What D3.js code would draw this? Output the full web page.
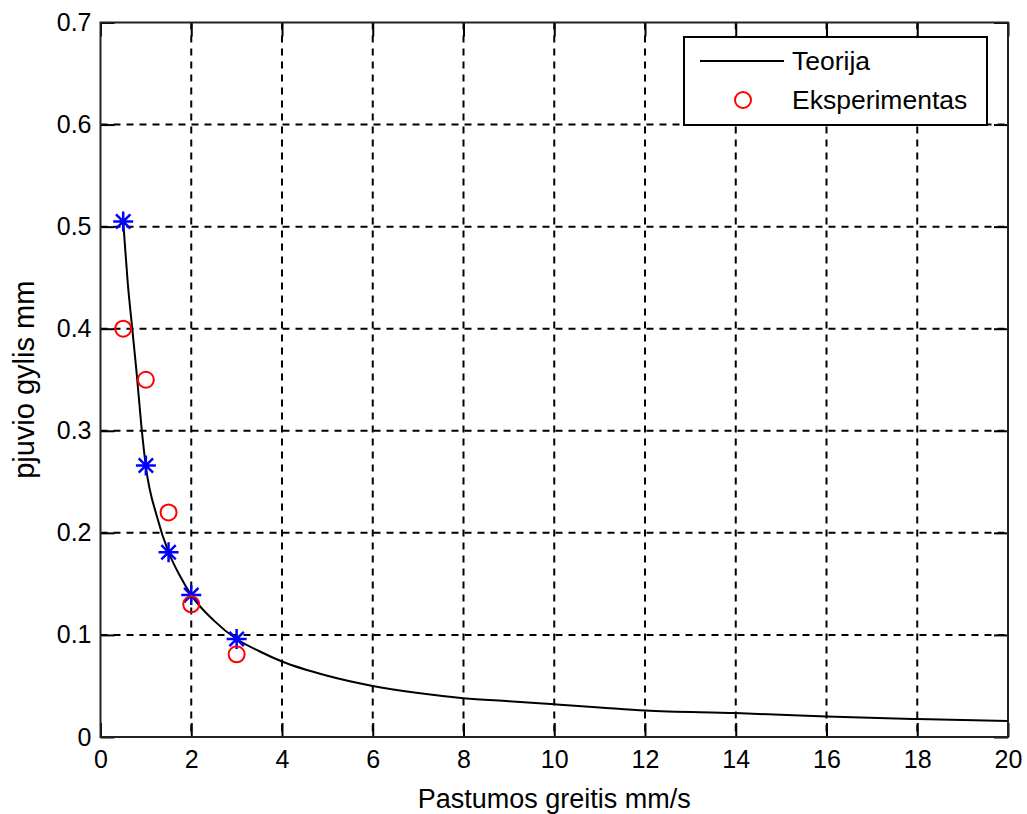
<!DOCTYPE html>
<html>
 <head>
  <title>Pjuvio gylis</title>
  <style>
  body { margin: 0; background: #fff; }
  svg { display: block; font-family: "Liberation Sans", Arial, sans-serif; }
  </style>
  <script src="https://cdnjs.cloudflare.com/ajax/libs/d3/7.8.3/d3.min.js"></script>
 </head>
 <body>
  <script>
   // theory curve
   const theoryX = [0.5, 0.6, 0.7, 0.8, 0.9, 1, 1.25, 1.5, 1.75, 2, 2.5, 3, 3.5, 4, 5, 6, 7, 8, 9, 10, 11, 12, 14, 16, 18, 20];
   const theoryY = [0.505, 0.445, 0.40, 0.355, 0.305, 0.265, 0.215, 0.181, 0.158, 0.139, 0.114, 0.096, 0.084, 0.074, 0.060, 0.050, 0.043, 0.038, 0.035, 0.032, 0.029, 0.026, 0.0235, 0.020, 0.0176, 0.0157];
   // theory points (blue stars)
   const starX = [0.5, 1, 1.5, 2, 3];
   const starY = [0.505, 0.266, 0.181, 0.139, 0.096];
   // experiment (red circles)
   const expX = [0.5, 1, 1.5, 2, 3];
   const expY = [0.40, 0.35, 0.22, 0.13, 0.081];

   const xTicks = d3.range(0, 21, 2);
   const yTicks = [0, 0.1, 0.2, 0.3, 0.4, 0.5, 0.6, 0.7];

   const w = 1027, h = 814;
   const padL = 100.5, padT = 22.5, padR = 1008, padB = 737;

   const x = d3.scaleLinear().domain([0, 20]).range([padL, padR]);
   const y = d3.scaleLinear().domain([0, 0.7]).range([padB, padT]);

   const svg = d3.select("body").append("svg")
                 .attr("width", w)
                 .attr("height", h);

   // grid
   svg.append("g").selectAll("line")
      .data(xTicks.slice(1, -1))
      .join("line")
      .attr("x1", d => x(d)).attr("x2", d => x(d))
      .attr("y1", padT).attr("y2", padB)
      .attr("stroke", "#000").attr("stroke-width", 2)
      .attr("stroke-dasharray", "7,6");
   svg.append("g").selectAll("line")
      .data(yTicks.slice(1, -1))
      .join("line")
      .attr("x1", padL).attr("x2", padR)
      .attr("y1", d => y(d)).attr("y2", d => y(d))
      .attr("stroke", "#000").attr("stroke-width", 2)
      .attr("stroke-dasharray", "7,6");

   // axes with inner ticks on all four sides
   const tl = 14;
   const xAxis = d3.axisBottom(x).tickValues(xTicks).tickSizeInner(-tl).tickSizeOuter(0).tickPadding(13);
   const yAxis = d3.axisLeft(y).tickValues(yTicks).tickSizeInner(-tl).tickSizeOuter(0).tickPadding(9)
                   .tickFormat(d => d === 0 ? "0" : d3.format(".1f")(d));
   svg.append("g").attr("transform", "translate(0," + padB + ")").call(xAxis);
   svg.append("g").attr("transform", "translate(" + padL + ",0)").call(yAxis);
   svg.append("g").attr("transform", "translate(0," + padT + ")")
      .call(d3.axisTop(x).tickValues(xTicks).tickSizeInner(-tl).tickSizeOuter(0).tickFormat(""));
   svg.append("g").attr("transform", "translate(" + padR + ",0)")
      .call(d3.axisRight(y).tickValues(yTicks).tickSizeInner(-tl).tickSizeOuter(0).tickFormat(""));
   svg.selectAll(".tick line").attr("stroke", "#000").attr("stroke-width", 2);
   svg.selectAll(".domain").remove();
   svg.selectAll(".tick text").attr("font-size", 25).attr("fill", "#000")
      .attr("font-family", "Liberation Sans, Arial, sans-serif");
   svg.append("rect")
      .attr("x", padL).attr("y", padT)
      .attr("width", padR - padL).attr("height", padB - padT)
      .attr("fill", "none").attr("stroke", "#222").attr("stroke-width", 2);

   // curve
   const pts = theoryX.map((d, i) => [d, theoryY[i]]);
   svg.append("path")
      .datum(pts)
      .attr("fill", "none").attr("stroke", "#000").attr("stroke-width", 2)
      .attr("d", d3.line().x(d => x(d[0])).y(d => y(d[1])).curve(d3.curveMonotoneX));

   // stars
   const star = r => {
     const a = r * 0.72;
     return "M" + (-r) + ",0H" + r + "M0," + (-r) + "V" + r +
            "M" + (-a) + "," + (-a) + "L" + a + "," + a +
            "M" + (-a) + "," + a + "L" + a + "," + (-a);
   };
   svg.append("g").selectAll("path")
      .data(starX.map((d, i) => [d, starY[i]]))
      .join("path")
      .attr("transform", d => "translate(" + x(d[0]) + "," + y(d[1]) + ")")
      .attr("d", star(10))
      .attr("stroke", "#0000ff").attr("stroke-width", 2.5).attr("fill", "none");

   // experiment circles
   svg.append("g").selectAll("circle")
      .data(expX.map((d, i) => [d, expY[i]]))
      .join("circle")
      .attr("cx", d => x(d[0])).attr("cy", d => y(d[1]))
      .attr("r", 8)
      .attr("fill", "none").attr("stroke", "#ff0000").attr("stroke-width", 2);

   // legend
   const leg = svg.append("g");
   leg.append("rect")
      .attr("x", 684).attr("y", 37).attr("width", 303).attr("height", 88)
      .attr("fill", "#fff").attr("stroke", "#000").attr("stroke-width", 2);
   leg.append("line")
      .attr("x1", 700).attr("x2", 784).attr("y1", 61).attr("y2", 61)
      .attr("stroke", "#000").attr("stroke-width", 2);
   leg.append("circle")
      .attr("cx", 743).attr("cy", 100).attr("r", 8)
      .attr("fill", "none").attr("stroke", "#ff0000").attr("stroke-width", 2);
   leg.selectAll("text")
      .data(["Teorija", "Eksperimentas"])
      .join("text")
      .attr("x", 792)
      .attr("y", (d, i) => 70 + 39 * i)
      .attr("font-size", 26.5)
      .text(d => d);

   // axis labels
   svg.append("text")
      .attr("x", (padL + padR) / 2).attr("y", 808)
      .attr("text-anchor", "middle")
      .attr("font-size", 27)
      .text("Pastumos greitis mm/s");
   svg.append("text")
      .attr("transform", "translate(34," + (padT + padB) / 2 + ") rotate(-90)")
      .attr("text-anchor", "middle")
      .attr("font-size", 29)
      .text("pjuvio gylis mm");
  </script>
 </body>
</html>
